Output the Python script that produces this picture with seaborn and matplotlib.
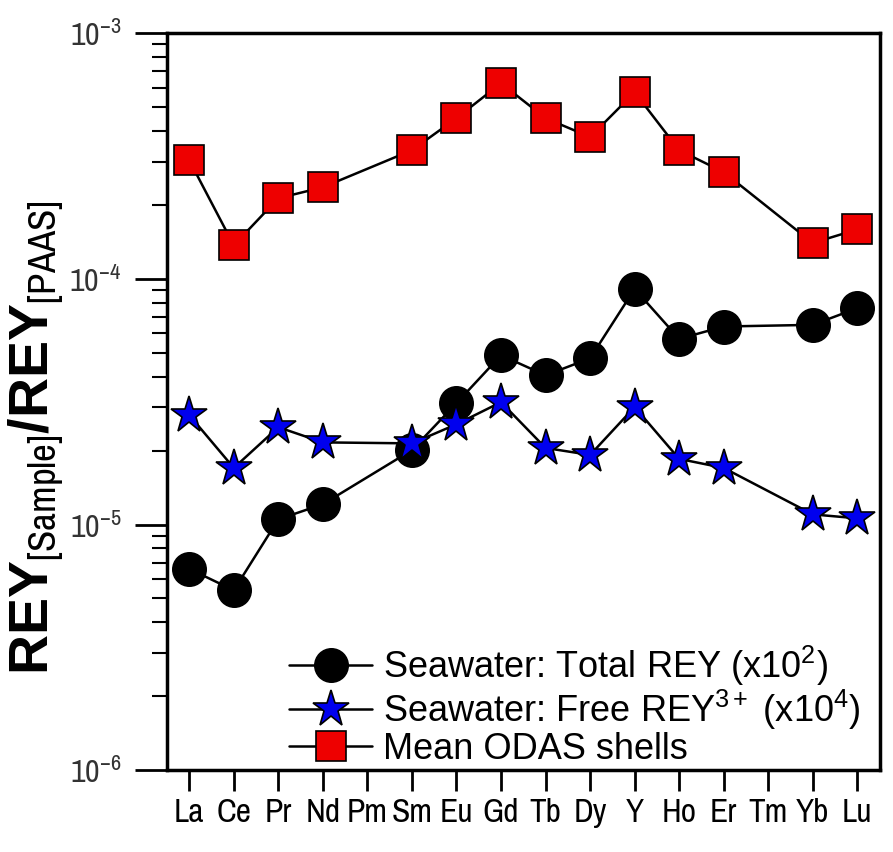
import numpy as np
import pandas as pd
import seaborn as sns
import matplotlib.pyplot as plt
from matplotlib import font_manager
from matplotlib.ticker import LogLocator, NullFormatter

elements = ['La', 'Ce', 'Pr', 'Nd', 'Pm', 'Sm', 'Eu', 'Gd', 'Tb', 'Dy', 'Y', 'Ho', 'Er', 'Tm', 'Yb', 'Lu']
nan = np.nan
total_rey = [6.6e-6, 5.4e-6, 1.05e-5, 1.21e-5, nan, 2.01e-5, 3.12e-5, 4.89e-5, 4.05e-5, 4.75e-5,
             9.1e-5, 5.7e-5, 6.4e-5, nan, 6.5e-5, 7.6e-5]
free_rey = [2.79e-5, 1.70e-5, 2.49e-5, 2.16e-5, nan, 2.14e-5, 2.56e-5, 3.15e-5, 2.05e-5, 1.92e-5,
            3.01e-5, 1.85e-5, 1.70e-5, nan, 1.10e-5, 1.06e-5]
odas_shells = [3.04e-4, 1.37e-4, 2.13e-4, 2.36e-4, nan, 3.34e-4, 4.51e-4, 6.26e-4, 4.51e-4, 3.78e-4,
               5.75e-4, 3.34e-4, 2.72e-4, nan, 1.40e-4, 1.59e-4]

labels = [r'Seawater: Total REY (x10$^2$)',
          r'Seawater: Free REY$^{3+}$ (x10$^4$)',
          'Mean ODAS shells']

# a condensed face for the tick labels if one is installed
narrow = 'Liberation Sans'
for f in font_manager.fontManager.ttflist:
    if 'Narrow' in f.name or 'Condensed' in f.name:
        narrow = f.name
        break

sns.set_style('ticks')
plt.rcParams['font.family'] = ['Liberation Sans', 'DejaVu Sans']
plt.rcParams['text.color'] = 'black'
plt.rcParams['axes.labelcolor'] = 'black'
plt.rcParams['xtick.color'] = 'black'
plt.rcParams['ytick.color'] = 'black'
plt.rcParams['axes.edgecolor'] = 'black'
plt.rcParams['mathtext.fontset'] = 'custom'
plt.rcParams['mathtext.rm'] = 'Liberation Sans'
plt.rcParams['mathtext.it'] = 'Liberation Sans'
plt.rcParams['mathtext.bf'] = 'Liberation Sans:bold'
plt.rcParams['mathtext.sf'] = narrow

fig = plt.figure(figsize=(8.93, 8.52), dpi=100)
ax = fig.add_axes([0.187, 0.096, 0.798, 0.865])

pos = np.arange(len(elements))
styles = [
    (total_rey, 'o', 'black', 24),
    (free_rey, '*', '#0000ee', 28),
    (odas_shells, 's', '#ee0000', 21),
]
for (vals, mk, fc, ms), lab in zip(styles, labels):
    df = pd.DataFrame({'pos': pos, 'val': vals}).dropna()
    sns.lineplot(data=df, x='pos', y='val', ax=ax, color='black', lw=1.8,
                 marker=mk, markersize=ms, markerfacecolor=fc,
                 markeredgecolor='black', markeredgewidth=1.2, label=lab)

ax.set_yscale('log')
ax.set_ylim(1e-6, 1e-3)
ax.set_xlim(-0.5, 15.5)
ax.yaxis.set_major_locator(LogLocator(base=10, numticks=10))
ax.yaxis.set_minor_locator(LogLocator(base=10, subs=np.arange(2, 10), numticks=10))
ax.yaxis.set_minor_formatter(NullFormatter())
ax.set_xticks(pos)
ax.set_xticklabels(elements, fontsize=24, family=narrow)
ax.tick_params(axis='y', which='major', length=23, width=2, labelsize=23, pad=10, direction='out')
ax.tick_params(axis='y', which='minor', length=11, width=1.5, direction='out')
ax.tick_params(axis='x', length=15, width=2, pad=5, direction='out')
for lab in ax.get_yticklabels():
    lab.set_color('#333333')
    lab.set_family(narrow)

for s in ax.spines.values():
    s.set_linewidth(2.5)
    s.set_visible(True)

ax.set_xlabel('')
ax.set_ylabel(r'$\mathbf{REY}_{\mathsf{[Sample]}}\mathbf{/REY}_{\mathsf{[PAAS]}}$',
              fontsize=40)
ax.yaxis.set_label_coords(-0.142, 0.452)

leg = ax.legend(loc='lower right', bbox_to_anchor=(1.009, -0.03), frameon=False,
                fontsize=26, handlelength=2.3, handletextpad=0.3, labelspacing=0.0,
                borderpad=0.2)

fig.savefig('out.png', dpi=100)
